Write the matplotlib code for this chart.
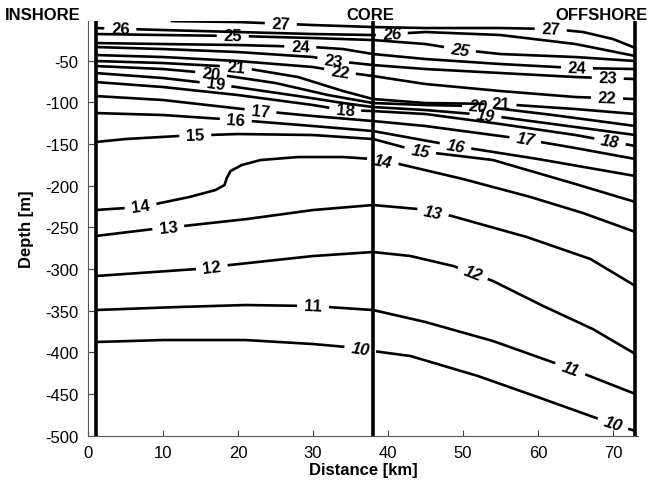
import numpy as np
import matplotlib
matplotlib.use("Agg")
import matplotlib.pyplot as plt

plt.rcParams['font.family'] = ['Liberation Sans', 'DejaVu Sans']
plt.rcParams['axes.unicode_minus'] = False

# ---- isotherm data (distance km, depth m) ----
dist_27 = [11, 20, 30, 38, 45, 55, 62, 66, 70, 73]
depth_27 = [-2.5, -3.6, -7.2, -9.6, -10.8, -10.8, -12.0, -15.6, -24.0, -34.8]

dist_26 = [1, 10, 20, 30, 38, 45, 55, 65, 73]
depth_26 = [-10.8, -13.2, -15.6, -18.0, -19.2, -15.6, -19.2, -30.0, -44.4]

dist_25 = [1, 10, 20, 30, 38, 45, 50, 55, 65, 73]
depth_25 = [-18.0, -19.2, -20.4, -22.8, -25.2, -30.0, -37.2, -42.0, -45.6, -50.4]

dist_24 = [1, 10, 20, 30, 34, 38, 45, 55, 65, 73]
depth_24 = [-28.8, -30.0, -31.2, -33.6, -36.0, -42.0, -48.0, -54.0, -58.8, -60.0]

dist_23 = [1, 10, 20, 30, 33, 38, 45, 55, 65, 73]
depth_23 = [-33.6, -36.0, -39.6, -45.6, -50.4, -55.2, -60.0, -64.8, -69.6, -72.0]

dist_22 = [1, 10, 20, 30, 34, 38, 45, 55, 65, 73]
depth_22 = [-43.2, -45.6, -50.4, -57.6, -63.6, -68.4, -78.0, -86.4, -93.6, -96.0]

dist_21 = [1, 10, 20, 28, 34, 38, 45, 55, 65, 73]
depth_21 = [-50.4, -52.8, -57.6, -69.6, -86.4, -96.0, -100.8, -102.0, -108.0, -114.0]

dist_20 = [1, 10, 16, 25, 32, 38, 45, 52, 62, 73]
depth_20 = [-56.4, -60.0, -64.8, -76.8, -91.2, -100.8, -103.2, -104.4, -115.2, -128.4]

dist_19 = [1, 10, 17, 28, 34, 38, 45, 53, 63, 73]
depth_19 = [-64.8, -70.8, -78.0, -92.4, -100.8, -105.6, -109.2, -115.2, -127.2, -139.2]

dist_18 = [1, 10, 20, 30, 34, 38, 45, 55, 65, 73]
depth_18 = [-75.6, -81.6, -91.2, -103.2, -109.2, -110.4, -114.0, -126.0, -139.2, -152.4]

dist_17 = [1, 10, 23, 30, 38, 45, 58, 65, 73]
depth_17 = [-92.4, -97.2, -110.4, -116.4, -122.4, -128.4, -144.0, -154.8, -168.0]

dist_16 = [1, 10, 20, 30, 38, 49, 60, 73]
depth_16 = [-112.8, -115.2, -121.2, -128.4, -134.4, -152.4, -168.0, -188.4]

dist_15 = [1, 5, 12, 20, 30, 38, 44, 54, 65, 73]
depth_15 = [-147.6, -144.0, -140.4, -138.0, -139.2, -144.0, -158.4, -169.2, -198.0, -219.6]

dist_14 = [1, 5, 9, 13.5, 17, 18.2, 18.5, 19, 20.5, 23, 28, 34, 38, 41.5, 50, 59, 66, 73]
depth_14 = [-229.2, -226.8, -222.0, -213.6, -205.2, -199.2, -190.8, -182.4, -175.2,
            -169.2, -165.6, -165.6, -168.0, -174.0, -192.0, -213.6, -232.8, -255.6]

dist_13 = [1, 8.7, 12.7, 21.2, 30, 38, 44, 48.5, 58.5, 67, 73]
depth_13 = [-260.4, -252.0, -248.4, -240.0, -229.2, -223.2, -228.0, -236.4, -261.6, -288.0, -320.4]

dist_12 = [1, 14.5, 18.9, 30, 38, 43, 48.7, 54, 60.7, 67.3, 73]
depth_12 = [-308.4, -300.0, -295.2, -284.4, -279.6, -284.4, -296.4, -314.4, -344.4, -372.0, -402.0]

dist_11 = [1, 12, 21, 30, 38, 45, 54, 64.5, 73]
depth_11 = [-349.2, -345.6, -343.2, -344.4, -349.2, -363.6, -386.4, -420.0, -450.0]

dist_10 = [1, 10, 21, 30, 34.5, 38, 43, 52, 60.7, 70, 73]
depth_10 = [-387.6, -385.2, -385.2, -390.0, -393.6, -398.4, -404.4, -428.4, -456.0, -486.0, -494.4]

levels = [27, 26, 25, 24, 23, 22, 21, 20, 19, 18, 17, 16, 15, 14, 13, 12, 11, 10]
label_left = [25.7, 4.3, 19.3, 28.3, 32.7, 33.6, 19.7, 16.4, 17.0, 34.3, 23.0, 19.7, 14.3, 7.0, 10.7, 16.5, 30.0, 36.3]
label_right = [61.7, 40.5, 49.6, 65.2, 69.3, 69.2, 55.0, 52.0, 53.0, 69.6, 58.3, 49.0, 44.3, 39.3, 46.0, 51.3, 64.3, 70.0]

station_x = [1, 38, 73]
station_names = ["INSHORE", "CORE", "OFFSHORE"]
station_label_x = [-6.0, 37.6, 68.5]

xticks = [0, 10, 20, 30, 40, 50, 60, 70]
yticks = [-500, -450, -400, -350, -300, -250, -200, -150, -100, -50]

iso = {27: (dist_27, depth_27), 26: (dist_26, depth_26), 25: (dist_25, depth_25),
       24: (dist_24, depth_24), 23: (dist_23, depth_23), 22: (dist_22, depth_22),
       21: (dist_21, depth_21), 20: (dist_20, depth_20), 19: (dist_19, depth_19),
       18: (dist_18, depth_18), 17: (dist_17, depth_17), 16: (dist_16, depth_16),
       15: (dist_15, depth_15), 14: (dist_14, depth_14), 13: (dist_13, depth_13),
       12: (dist_12, depth_12), 11: (dist_11, depth_11), 10: (dist_10, depth_10)}

upright_right = {27, 24, 23, 22, 21}

fig = plt.figure(figsize=(6.55, 4.85), dpi=100)
ax = fig.add_axes([0.1344, 0.0996, 0.9748 - 0.1344, 0.9544 - 0.0996])
ax.set_xlim(0, 73.4)
ax.set_ylim(-500, -2.5)

px_per_km = ax.transData.transform((1, 0))[0] - ax.transData.transform((0, 0))[0]
half_gap_px = 16.0

for lev, lxl, lxr in zip(levels, label_left, label_right):
    x = np.asarray(iso[lev][0], float)
    d = np.asarray(iso[lev][1], float)
    gaps = []
    for lx, side in ((lxl, 'L'), (lxr, 'R')):
        yl = np.interp(lx, x, d)
        a = ax.transData.transform((lx - 0.9, np.interp(lx - 0.9, x, d)))
        b = ax.transData.transform((lx + 0.9, np.interp(lx + 0.9, x, d)))
        ang = np.degrees(np.arctan2(b[1] - a[1], b[0] - a[0]))
        half = half_gap_px * np.cos(np.radians(ang)) / px_per_km
        gaps.append((lx - half, lx, lx + half))
        italic = (side == 'R' and lev not in upright_right) or (side == 'L' and lev == 10)
        ax.text(lx, yl, str(lev), rotation=ang, rotation_mode='anchor',
                ha='center', va='center', fontsize=12, fontweight='bold',
                style='italic' if italic else 'normal', zorder=4)
    nodes = list(x)
    for g0, gm, g1 in gaps:
        nodes += [g0, gm, g1]
    nodes = np.array(sorted(set([n for n in nodes if x[0] <= n <= x[-1]])))
    vals = np.interp(nodes, x, d)
    for g0, gm, g1 in gaps:
        vals[(nodes > g0 + 1e-9) & (nodes < g1 - 1e-9)] = np.nan
    ax.plot(nodes, vals, color='black', lw=1.9, solid_capstyle='butt',
            solid_joinstyle='round', zorder=3)

for sx in station_x:
    ax.axvline(sx, color='black', lw=2.6, zorder=5)

for name, lx in zip(station_names, station_label_x):
    ax.text(lx, 6.0, name, ha='center', va='center', fontsize=12,
            fontweight='bold', clip_on=False)

ax.set_xticks(xticks)
ax.set_yticks(yticks)
ax.tick_params(direction='in', length=4, width=0.8, colors='#444444',
               labelcolor='black', labelsize=12, pad=7)
for s in ('top', 'right'):
    ax.spines[s].set_visible(False)
for s in ('left', 'bottom'):
    ax.spines[s].set_color('#555555')
    ax.spines[s].set_linewidth(0.8)

ax.set_xlabel('Distance [km]', fontsize=12, fontweight='bold', labelpad=1)
ax.set_ylabel('Depth [m]', fontsize=12, fontweight='bold', labelpad=8)

fig.savefig('out.png', dpi=100)
